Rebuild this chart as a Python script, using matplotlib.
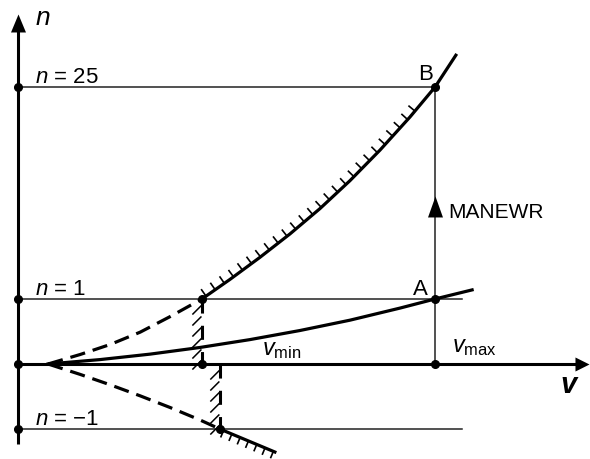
import numpy as np
import matplotlib
matplotlib.use('Agg')
import matplotlib.pyplot as plt

plt.rcParams['font.family'] = ['Liberation Sans', 'DejaVu Sans']
plt.rcParams['mathtext.fontset'] = 'custom'
plt.rcParams['mathtext.rm'] = 'Liberation Sans'
plt.rcParams['mathtext.it'] = 'Liberation Sans:italic'
plt.rcParams['mathtext.bf'] = 'Liberation Sans:bold'

# schematic diagram: v in units where v_max = 10, n drawn on a schematic height scale
v_min = 4.41          # stall speed at n = 1
v_neg = 4.84          # speed where negative limit meets n = -1
v_max = 10.0
n_heights = [4.26, 1.0, -1.0]                 # drawn heights of n = 25, 1, -1
n_labels = ['$n$ = 25', '$n$ = 1', '$n$ = \u22121']
n_line_end = [v_max, 10.65, 10.65]

# positive limit curve (solid, hatched) from v_min up through B
up_v = [4.41, 5.08, 5.80, 6.52, 7.24, 7.96, 8.68, 9.40, 10.0, 10.50]
up_n = [1.00, 1.30, 1.64, 2.00, 2.39, 2.82, 3.29, 3.80, 4.26, 4.75]
# positive limit below v_min (dashed)
upd_v = [0.72, 1.49, 2.21, 2.93, 3.65, 4.41]
upd_n = [0.00, 0.146, 0.30, 0.49, 0.73, 1.00]
# negative limit below v_neg (dashed)
lod_v = [0.72, 1.49, 2.21, 2.93, 3.65, 4.36, 4.84]
lod_n = [0.00, -0.16, -0.32, -0.49, -0.67, -0.86, -1.00]
# negative limit beyond v_neg (solid, hatched)
los_v = [4.84, 6.16]
los_n = [-1.00, -1.354]
# level flight curve through A
mid_v = [0.72, 1.97, 3.17, 4.36, 5.56, 6.76, 7.96, 9.16, 10.0, 10.89]
mid_n = [0.00, 0.068, 0.152, 0.254, 0.375, 0.515, 0.674, 0.86, 1.00, 1.14]

fig = plt.figure(figsize=(5.9, 4.6), dpi=100)
ax = fig.add_axes([0, 0, 1, 1])
ax.set_xlim(-0.432, 13.717)
ax.set_ylim(-1.4615, 5.615)
ax.axis('off')

K = 'black'
thin = dict(color='#222222', lw=1.1)

# thin reference lines
for h, end in zip(n_heights, n_line_end):
    ax.plot([0, end], [h, h], **thin)
ax.plot([v_max, v_max], [0, n_heights[0]], **thin)

# axes
ax.plot([0, 0], [-1.23, 5.30], color=K, lw=2.2, solid_capstyle='butt')
ax.plot([0, 13.5], [0, 0], color=K, lw=2.2, solid_capstyle='butt')
ax.plot([0], [5.385], marker=[(-7.5, -18), (7.5, -18), (0, 0)], ms=25.9, color=K, mew=0)
ax.plot([13.70], [0], marker=[(0, 0), (-14, 7), (-14, -7)], ms=20.2, color=K, mew=0)
ax.plot([v_max], [2.585], marker=[(-7.5, -21), (7.5, -21), (0, 0)], ms=30.2, color=K, mew=0)

# curves
ax.plot(up_v, up_n, color=K, lw=2.3)
ax.plot(mid_v, mid_n, color=K, lw=2.3)
ax.plot(los_v, los_n, color=K, lw=2.3)
dash = (0, (4.8, 2.5))
ax.plot(upd_v, upd_n, color=K, lw=2.3, ls=dash)
ax.plot(lod_v, lod_n, color=K, lw=2.3, ls=dash)

toD = ax.transData
toData = ax.transData.inverted()


def hatch_along(xs, ys, start, stop, step, length, side):
    pts = toD.transform(np.column_stack([xs, ys]))
    seg = np.hypot(*np.diff(pts, axis=0).T)
    s = np.concatenate([[0], np.cumsum(seg)])
    for d in np.arange(start, min(stop, s[-1]), step):
        i = min(np.searchsorted(s, d, side='right') - 1, len(seg) - 1)
        t = (pts[i + 1] - pts[i]) / seg[i]
        p0 = pts[i] + t * (d - s[i])
        p1 = p0 + side * np.array([-t[1], t[0]]) * length
        q = toData.transform([p0, p1])
        ax.plot(q[:, 0], q[:, 1], color=K, lw=1.2, solid_capstyle='butt')


hatch_along(up_v, up_n, 5, 292, 11.2, 8.5, 1)
hatch_along(los_v, los_n, 4, 60, 9.0, 7.5, -1)

# hatched vertical boundaries at v_min and v_neg
for vx, y0, y1 in [(v_min, 1.0, 0.0), (v_neg, 0.0, -1.0)]:
    ax.plot([vx, vx], [y0, y1], color=K, lw=2.2, ls=(0, (4.6, 4.0)), solid_capstyle='butt')
    top, bot = toD.transform([(vx, y0), (vx, y1)])
    for yy in np.arange(bot[1] + 3, top[1] - 2, 11):
        q = toData.transform([(top[0] - 9, yy - 8), (top[0] - 1, yy)])
        ax.plot(q[:, 0], q[:, 1], color=K, lw=1.1)

# points
dots_v = [0, 0, 0, 0, v_max, v_max, v_max, v_min, v_min, v_neg]
dots_n = [4.26, 1.0, 0.0, -1.0, 4.26, 1.0, 0.0, 1.0, 0.0, -1.0]
ax.plot(dots_v, dots_n, 'o', color=K, ms=5.5, zorder=5)

# text
fs = 16
for h, lab in zip(n_heights, n_labels):
    ax.text(0.41, h + 0.08, lab, fontsize=fs, ha='left', va='baseline')
ax.text(0.43, 5.23, 'n', fontsize=19, ha='left', va='baseline', fontstyle='italic')
ax.text(13.0, -0.43, 'v', fontsize=21, ha='left', va='baseline',
        fontstyle='italic', fontweight='bold')
ax.text(9.95, 4.385, 'B', fontsize=fs, ha='right', va='baseline')
ax.text(9.83, 1.077, 'A', fontsize=fs, ha='right', va='baseline')
ax.text(10.31, 2.26, 'MANEWR', fontsize=15, ha='left', va='baseline')
ax.text(5.85, 0.154, r'$v_{\mathrm{min}}$', fontsize=17, ha='left', va='baseline')
ax.text(10.41, 0.2, r'$v_{\mathrm{max}}$', fontsize=17, ha='left', va='baseline')

fig.savefig('out.png', dpi=100)
